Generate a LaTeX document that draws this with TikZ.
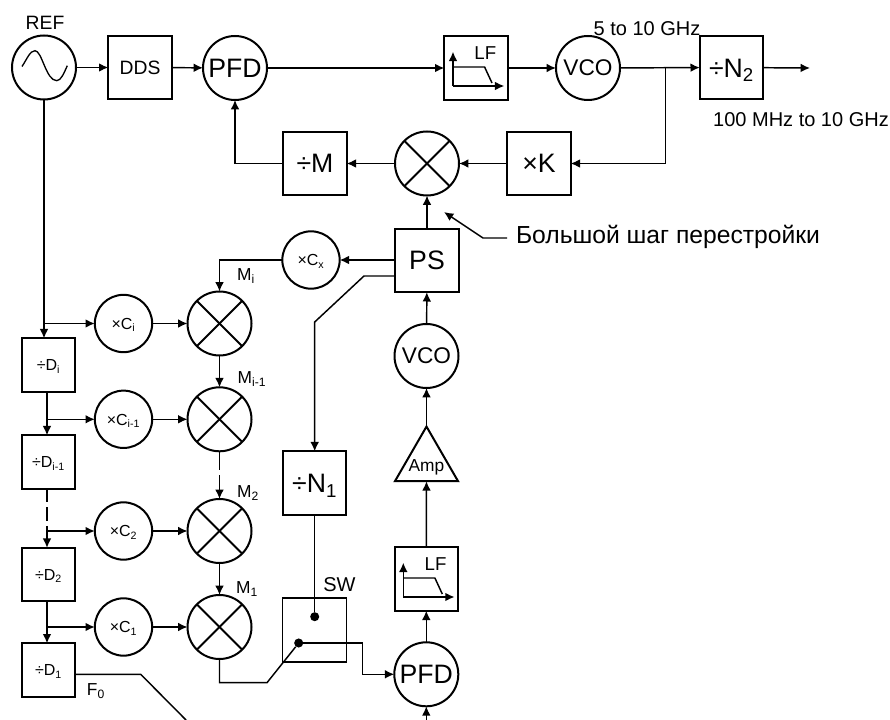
\documentclass[tikz,border=0pt]{standalone}
\usepackage{fontspec}
\setmainfont{Liberation Sans}
\usepackage{tikz}
\usetikzlibrary{calc, shapes.geometric, positioning, arrows.meta}

\newcommand{\fsz}[1]{\fontsize{#1}{#1}\selectfont}

\tikzset{
    block/.style={draw, line width=1.5pt, minimum size=47.5pt, inner sep=0pt, outer sep=0pt},
    smallblock/.style={block, minimum size=40pt, text height=8.6pt, text depth=0pt},
    subblock/.style={block, text height=14.8pt, text depth=0pt},
    round/.style={draw, circle, line width=1.5pt, minimum size=48pt, inner sep=0pt, outer sep=0pt},
    mulc/.style={round, minimum size=43pt, text height=8.6pt, text depth=0pt},
    mixer/.style={round, path picture={
        \draw[line width=1.5pt] (path picture bounding box.north west) -- (path picture bounding box.south east);
        \draw[line width=1.5pt] (path picture bounding box.north east) -- (path picture bounding box.south west);}},
    ampbox/.style={draw, isosceles triangle, isosceles triangle apex angle=60, shape border rotate=90,
        line width=1.5pt, minimum height=41pt, inner sep=0pt, outer sep=0pt},
    lbl/.style={inner sep=0pt, outer sep=0pt},
    wire/.style={line width=1.1pt},
    lfplot/.pic={
        \draw[->, wire] (-23,18) -- (-23,-16.3);
        \draw[->, wire] (-23,18) -- (28.3,18);
        \draw[wire] (-23,-1) -- (8.6,-1) -- (16,15);
        \node[lbl, font=\fsz{14}] (-txt) at (9.3,-15.3) {LF};
    }
}

\begin{document}
\begin{tikzpicture}[>={Latex[length=7pt,width=6.5pt]}, x=0.75pt, y=-0.75pt]
    \useasboundingbox (0,0) rectangle (890,720);
    % Vòng trên
    \node[round] (ref) at (44,67.5) {};
    \node[lbl, font=\fsz{14.5}] (reftxt) at (45,23) {REF};
    \node[block, font=\fsz{14.5}] (dds) at (140,67.5) {DDS};
    \node[round, font=\fsz{20}] (pfda) at (235,68) {PFD};
    \node[block] (lfa) at (476,68) {};
    \pic (lfaicon) at (lfa) {lfplot};
    \node[round, font=\fsz{17}] (vcoa) at (588,68) {VCO};
    \node[subblock, font=\fsz{20}] (ntwo) at (731.5,67.5) {÷N\textsubscript{2}};
    \coordinate (out) at (810,68);
    \coordinate (tap) at (665.7,68);
    \node[lbl, font=\fsz{15}] (fvco) at (647,29) {5 to 10 GHz};
    \node[lbl, font=\fsz{15}] (fout) at (801,120) {100 MHz to 10 GHz};

    % Hàng giữa
    \node[block, font=\fsz{20}] (divm) at (315,163.5) {÷M};
    \node[mixer] (mixa) at (427,163.5) {};
    \node[block, font=\fsz{20}] (mulk) at (539,163.5) {×K};
    \node[block, font=\fsz{20}] (ps) at (427,260.5) {PS};
    \node[mulc, font=\fsz{12}] (cx) at (311,260) {×C\textsubscript{x}};
    \node[lbl, font=\fsz{18.5}, anchor=west] (step) at (516,237) {Большой шаг перестройки};
    \coordinate (stepa) at (483,238);
    \coordinate (stepb) at (444,212);

    % Hình sin trong REF
    \draw[line width=1pt] (22,66.5) .. controls (27,59) and (30,50.7) .. (35,50.7)
        .. controls (42,50.7) and (46,80.7) .. (56.7,80.7) .. controls (61,80.7) and (64,73) .. (67.3,65.7);

    % Các tầng chia, nhân và trộn
    \coordinate (dline) at (47,0);
    \foreach \name/\y/\ytxt/\sub in {i/365/323.5/i, j/462/419.3/{i-1}, b/574.5/531/2, a/670/627/1} {
        \node[smallblock, font=\fsz{12}] (d\name) at (48.5,\y) {÷D\textsubscript{\sub}};
        \node[mulc, font=\fsz{12}] (c\name) at (123.5,\ytxt) {×C\textsubscript{\sub}};
        \node[mixer] (m\name) at (219.5,\ytxt) {};
    }
    \node[lbl, font=\fsz{13}] (mitxt) at (246,276) {M\textsubscript{i}};
    \node[lbl, font=\fsz{13}] (mjtxt) at (252,379) {M\textsubscript{i-1}};
    \node[lbl, font=\fsz{13}] (mbtxt) at (248,493) {M\textsubscript{2}};
    \node[lbl, font=\fsz{13}] (matxt) at (247,589) {M\textsubscript{1}};
    \node[lbl, font=\fsz{13}] (fzero) at (96,691) {F\textsubscript{0}};

    % Vòng dưới
    \node[round, font=\fsz{17}] (vcob) at (426.5,356) {VCO};
    \node[ampbox] (amp) at (426.5,463) {};
    \node[lbl, font=\fsz{13}] (amptxt) at (426.5,467) {Amp};
    \node[block] (lfb) at (426.3,579) {};
    \pic (lfbicon) at (lfb) {lfplot};
    \node[round, font=\fsz{20}] (pfdb) at (426.3,674.3) {PFD};
    \node[subblock, font=\fsz{20}] (none) at (314.7,483) {÷N\textsubscript{1}};
    \node[draw, line width=1pt, minimum size=48pt, inner sep=0pt, outer sep=0pt] (sw) at (314.7,630) {};
    \node[lbl, font=\fsz{15}] (swtxt) at (339.5,584.5) {SW};
    \coordinate[circle, fill, inner sep=2.4pt] (swa) at (314.7,616.7);
    \coordinate[circle, fill, inner sep=2.4pt] (swb) at (298.7,643);
    \coordinate (kinka) at (267,682.7);
    \coordinate (refin) at (426.3,724);
    \coordinate (fzeroa) at (140.7,674.3);
    \coordinate (fzerob) at (186,720);

    % Các đường nối
    \draw[->, wire] (ref) -- (dds);
    \draw[->, wire] (dds) -- (pfda);
    \draw[->, wire] (pfda) -- (lfa);
    \draw[->, wire] (lfa) -- (vcoa);
    \draw[->, wire] (vcoa) -- (ntwo);
    \draw[->, wire] (ntwo) -- (out);
    \draw[->, wire] (tap) |- (mulk);
    \draw[->, wire] (mulk) -- (mixa);
    \draw[->, wire] (mixa) -- (divm);
    \draw[->, wire] (divm) -| (pfda);
    \draw[->, wire] (ps) -- (mixa);
    \draw[->, wire] (ps.west |- cx) -- (cx);
    \draw[->, wire] (cx) -| (mi);
    \draw[->, wire] (stepa -| step.west) ++(-9,0) -- (stepa) -- (stepb);
    \draw[->, wire] (ref.south) -- (ref.south |- di.north);
    \draw[->, wire] (ref.south |- ci) -- (ci);
    \foreach \name in {i,j,b,a} {
        \draw[->, wire] (c\name) -- (m\name);
    }
    \draw[->, wire] (mi) -- (mj);
    \draw[->, wire, dash pattern=on 14pt off 4pt] (mj) -- (mb);
    \draw[->, wire] (mb) -- (ma);
    \draw[->, wire] (dline |- di.south) -- (dline |- dj.north);
    \draw[->, wire, dash pattern=on 10pt off 4pt] (dline |- dj.south) -- (dline |- db.north);
    \draw[->, wire] (dline |- db.south) -- (dline |- da.north);
    \foreach \name in {j,b,a} {
        \draw[->, wire] (dline |- c\name) -- (c\name);
    }
    \draw[->, wire] (vcob) -- (ps);
    \draw[->, wire] (amp.north) -- (vcob);
    \draw[->, wire] (lfb) -- (amp.south);
    \draw[->, wire] (pfdb) -- (lfb);
    \draw[->, wire] (ps.west |- 0,276) -- (364,276) -- (314.7,322) -- (none);
    \draw[wire] (none) -- (swa);
    \draw[wire] (ma) |- (kinka) -- (swb);
    \draw[->, wire] (swb) -- (362.7,643) |- (pfdb);
    \draw[->, wire] (refin) -- (pfdb);
    \draw[wire] (da.east |- fzeroa) -- (fzeroa) -- (fzerob);
\end{tikzpicture}
\end{document}
